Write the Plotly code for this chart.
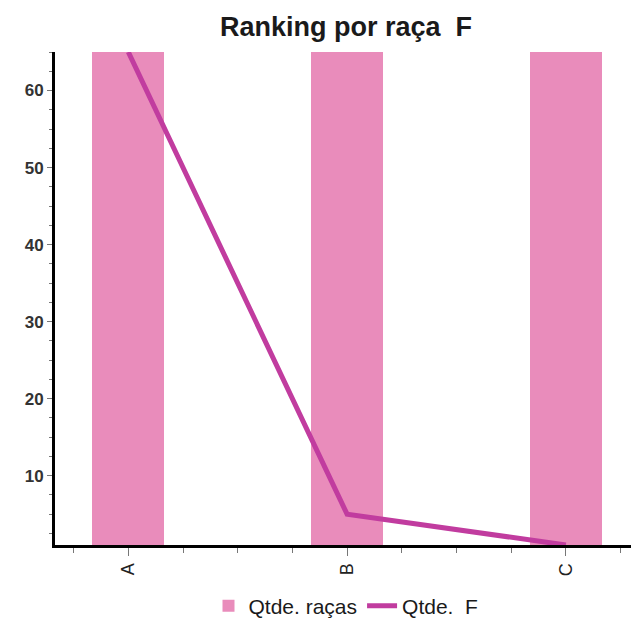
import plotly.graph_objects as go

categories = ["A", "B", "C"]
racas_values = [65, 65, 65]
femeas_values = [65, 5, 1]
y_tick_values = [10, 20, 30, 40, 50, 60]

x_pos = list(range(len(categories)))

fig = go.Figure()
fig.add_trace(go.Bar(
    x=x_pos, y=racas_values, name="Qtde. raças",
    marker=dict(color="#E98CBB", line=dict(width=0)),
    width=0.33,
))
fig.add_trace(go.Scatter(
    x=x_pos, y=femeas_values, name="Qtde.&nbsp; F",
    mode="lines", line=dict(color="#C13C9F", width=5),
))

# page body has an 8px default margin; layout below compensates for it
W, H = 631, 612
font_family = "Arial, Liberation Sans, sans-serif"
fig.update_layout(
    width=W, height=H,
    margin=dict(l=47, r=2, t=44, b=75, autoexpand=False),
    paper_bgcolor="white", plot_bgcolor="white",
    title=dict(text="<b>Ranking por raça&nbsp; F</b>", x=0.5, xref="paper",
               y=1 - 19 / H, yref="container", yanchor="middle", xanchor="center",
               font=dict(family=font_family, size=27, color="#1a1a1a")),
    showlegend=True,
    legend=dict(orientation="h", x=0.5, xanchor="center", xref="paper",
                y=1 - 598 / H, yref="container", yanchor="middle",
                font=dict(family=font_family, size=21, color="#1a1a1a"),
                itemwidth=30, traceorder="normal", tracegroupgap=0),
    bargap=0,
)
fig.update_xaxes(
    range=[-0.335, 2.325],
    tickvals=x_pos, ticktext=categories, tickangle=-90,
    showgrid=False, zeroline=False,
    showline=True, linecolor="black", linewidth=3,
    ticks="outside", ticklen=8, tickcolor="#777", tickwidth=1,
    minor=dict(dtick=0.25, tick0=0, ticks="outside", ticklen=5, tickcolor="#777"),
    tickfont=dict(family=font_family, size=18, color="#222"),
)
fig.update_yaxes(
    range=[1, 65],
    tickvals=y_tick_values,
    showgrid=False, zeroline=False,
    showline=True, linecolor="black", linewidth=3, mirror=True,
    ticks="outside", ticklen=5, tickcolor="#777", tickwidth=1,
    minor=dict(dtick=2.5, tick0=0, ticks="outside", ticklen=3, tickcolor="#777"),
    tickfont=dict(family=font_family, size=17, color="#333", weight="bold"),
)

fig.write_html("out.html")
